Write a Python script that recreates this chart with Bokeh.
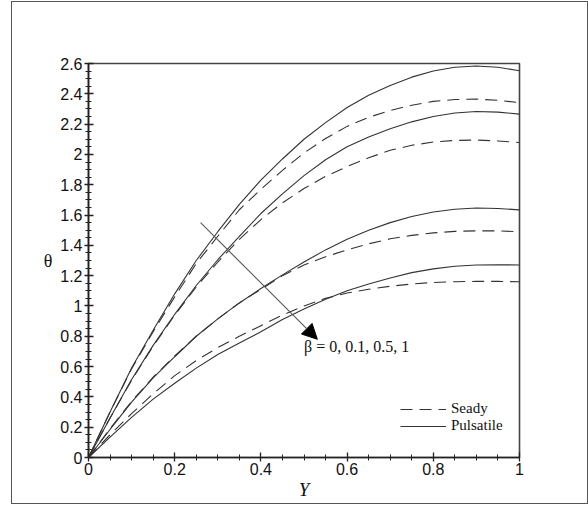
from bokeh.plotting import figure
from bokeh.models import (FixedTicker, Arrow, NormalHead, Label, Legend, LegendItem, Range1d)
from bokeh.embed import file_html
from bokeh.resources import INLINE

# ---------------- data ----------------
Y = [0.00, 0.05, 0.10, 0.15, 0.20, 0.25, 0.30, 0.35, 0.40, 0.45, 0.50,
     0.55, 0.60, 0.65, 0.70, 0.75, 0.80, 0.85, 0.90, 0.95, 1.00]

# Pulsatile (solid) for beta = 0, 0.1, 0.5, 1
pulsatile_b0 = [0, 0.30, 0.59, 0.84, 1.08, 1.30, 1.49, 1.67, 1.83, 1.97, 2.10,
                2.21, 2.31, 2.39, 2.455, 2.51, 2.55, 2.575, 2.584, 2.575, 2.552]
pulsatile_b01 = [0, 0.26, 0.515, 0.74, 0.945, 1.135, 1.305, 1.46, 1.61, 1.74, 1.86,
                 1.965, 2.05, 2.115, 2.17, 2.215, 2.25, 2.273, 2.283, 2.279, 2.266]
pulsatile_b05 = [0, 0.185, 0.365, 0.525, 0.665, 0.80, 0.915, 1.02, 1.115, 1.205, 1.29,
                 1.37, 1.44, 1.50, 1.55, 1.59, 1.62, 1.638, 1.646, 1.643, 1.634]
pulsatile_b1 = [0, 0.135, 0.265, 0.385, 0.49, 0.59, 0.68, 0.755, 0.83, 0.91, 0.98,
                1.045, 1.10, 1.145, 1.185, 1.22, 1.245, 1.262, 1.27, 1.272, 1.27]

# Steady (dashed) for beta = 0, 0.1, 0.5, 1
steady_b0 = [0, 0.30, 0.585, 0.83, 1.06, 1.28, 1.46, 1.635, 1.77, 1.895, 2.01,
             2.105, 2.185, 2.245, 2.29, 2.325, 2.35, 2.362, 2.365, 2.357, 2.342]
steady_b01 = [0, 0.26, 0.51, 0.735, 0.94, 1.125, 1.29, 1.44, 1.57, 1.68, 1.775,
              1.855, 1.92, 1.978, 2.027, 2.06, 2.082, 2.092, 2.095, 2.089, 2.079]
steady_b05 = [0, 0.19, 0.37, 0.53, 0.67, 0.80, 0.915, 1.02, 1.11, 1.20, 1.27,
              1.325, 1.37, 1.41, 1.443, 1.466, 1.482, 1.492, 1.496, 1.495, 1.49]
steady_b1 = [0, 0.15, 0.29, 0.42, 0.54, 0.64, 0.725, 0.80, 0.87, 0.94, 1.00,
             1.05, 1.085, 1.11, 1.13, 1.145, 1.155, 1.16, 1.162, 1.162, 1.16]

x_ticks = [0, 0.2, 0.4, 0.6, 0.8, 1]
x_tick_labels = ["0", "0.2", "0.4", "0.6", "0.8", "1"]
y_ticks = [0, 0.2, 0.4, 0.6, 0.8, 1, 1.2, 1.4, 1.6, 1.8, 2, 2.2, 2.4, 2.6]
y_tick_labels = ["0", "0.2", "0.4", "0.6", "0.8", "1", "1.2", "1.4", "1.6",
                 "1.8", "2", "2.2", "2.4", "2.6"]
x_minor = [i * 0.05 for i in range(21)]
y_minor = [i * 0.05 for i in range(53)]

arrow_start = (0.26, 1.55)
arrow_end = (0.531, 0.78)
beta_label = "β = 0, 0.1, 0.5, 1"
beta_label_pos = (0.5, 0.73)

# ---------------- figure ----------------
p = figure(width=575, height=501, output_backend="svg", toolbar_location=None,
           x_range=Range1d(0, 1), y_range=Range1d(0, 2.6),
           min_border_left=76, min_border_right=68, min_border_top=61,
           min_border_bottom=46)
p.margin = (2, 0, 0, 12)
p.styles = {"outline": "1.5px solid #555555"}
p.background_fill_color = "white"
p.border_fill_color = "white"
p.grid.visible = False
p.outline_line_color = "#444444"
p.outline_line_width = 1.6

line_col = "#333333"
dash = "12 7"

solid_renderers = []
dashed_renderers = []
for ser in [pulsatile_b0, pulsatile_b01, pulsatile_b05, pulsatile_b1]:
    solid_renderers.append(p.line(Y, ser, line_color=line_col, line_width=1.1))
for ser in [steady_b0, steady_b01, steady_b05, steady_b1]:
    dashed_renderers.append(p.line(Y, ser, line_color=line_col, line_width=1.1,
                                   line_dash=dash))

# axes
for ax in (p.xaxis[0], p.yaxis[0]):
    ax.axis_line_color = "#222222"
    ax.axis_line_width = 1.6
    ax.major_tick_line_color = "#222222"
    ax.minor_tick_line_color = "#222222"
    ax.major_tick_line_width = 1.3
    ax.minor_tick_line_width = 1
    ax.major_tick_in = 5
    ax.major_tick_out = 4
    ax.minor_tick_in = 3
    ax.minor_tick_out = 3
    ax.major_label_text_font = "Liberation Sans"
    ax.major_label_text_font_size = "16px"
    ax.major_label_text_color = "#111111"
    ax.axis_label_text_font = "Liberation Serif"
    ax.axis_label_text_font_style = "normal"
    ax.axis_label_text_color = "#111111"

p.xaxis[0].ticker = FixedTicker(ticks=x_ticks, minor_ticks=x_minor)
p.yaxis[0].ticker = FixedTicker(ticks=y_ticks, minor_ticks=y_minor)
p.xaxis[0].major_label_overrides = {t: s for t, s in zip(x_ticks, x_tick_labels)}
p.yaxis[0].major_label_overrides = {t: s for t, s in zip(y_ticks, y_tick_labels)}
p.xaxis[0].major_label_standoff = 1
p.yaxis[0].major_label_standoff = 2

p.xaxis[0].axis_label = "Y"
p.xaxis[0].axis_label_text_font_style = "italic"
p.xaxis[0].axis_label_text_font_size = "19px"
p.xaxis[0].axis_label_standoff = 1

p.yaxis[0].axis_label = "θ"
p.yaxis[0].axis_label_text_font_size = "18px"
p.yaxis[0].axis_label_orientation = "horizontal"
p.yaxis[0].axis_label_standoff = 5

# arrow + label
p.add_layout(Arrow(x_start=arrow_start[0], y_start=arrow_start[1],
                   x_end=arrow_end[0], y_end=arrow_end[1],
                   line_color="#555555", line_width=1.1,
                   end=NormalHead(size=15, fill_color="black", line_color="black")))
p.add_layout(Label(x=beta_label_pos[0], y=beta_label_pos[1], text=beta_label,
                   text_font="Liberation Serif", text_font_size="16px",
                   text_color="#111111", text_baseline="middle"))

# legend
legend = Legend(items=[LegendItem(label="Seady", renderers=[dashed_renderers[0]]),
                       LegendItem(label="Pulsatile", renderers=[solid_renderers[0]])],
                location=(312, 23), orientation="vertical",
                label_text_font="Liberation Serif", label_text_font_size="15px",
                label_text_color="#111111",
                glyph_width=46, glyph_height=16, label_height=16, spacing=0,
                label_standoff=5, padding=0, margin=0,
                background_fill_alpha=0, border_line_alpha=0)
p.add_layout(legend)

open("out.html", "w").write(file_html(p, INLINE))
